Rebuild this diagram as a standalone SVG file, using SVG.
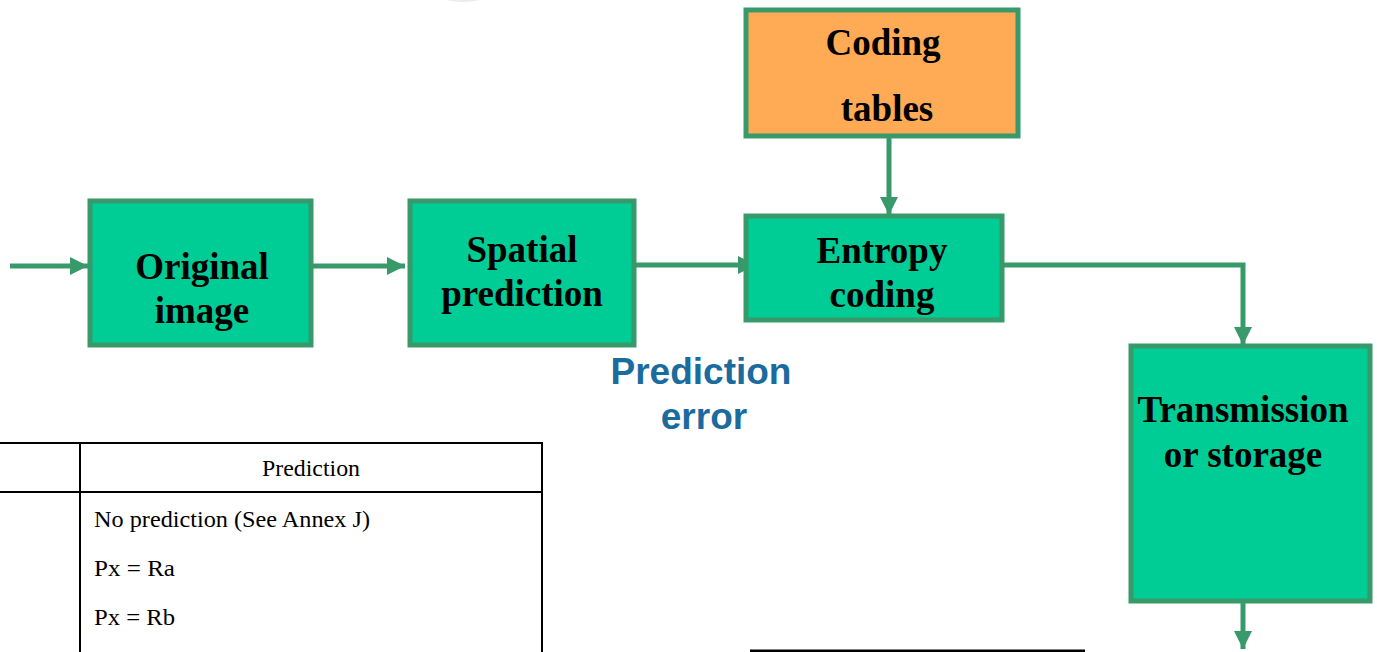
<svg xmlns="http://www.w3.org/2000/svg" width="1377" height="652" viewBox="0 0 1377 652">
<defs>
<style>
.box{fill:#00cc96;stroke:#38996a;stroke-width:5}
.orange{fill:#ffaa55;stroke:#38996a;stroke-width:5}
.lbl{font-family:"Liberation Serif",serif;font-weight:bold;font-size:37px;fill:#000;text-anchor:middle}
.blue{font-family:"Liberation Sans",Arial,sans-serif;font-weight:bold;font-size:37px;fill:#1a6b9e;text-anchor:middle}
.conn{stroke:#38996a;stroke-width:5;fill:none}
.tbl{stroke:#000;stroke-width:2;fill:none}
.tt{font-family:"Liberation Serif",serif;font-size:23.5px;fill:#000}
</style>
<marker id="ah" markerUnits="userSpaceOnUse" markerWidth="20" markerHeight="18" refX="18" refY="9" orient="auto">
<path d="M0,0 L18,9 L0,18 Z" fill="#38996a"/>
</marker>
</defs>
<rect width="1377" height="652" fill="#fff"/>
<ellipse cx="463" cy="-4" rx="22" ry="6" fill="#ececec"/>
<g id="connectors">
<line class="conn" x1="10" y1="266" x2="88" y2="266" marker-end="url(#ah)"/>
<line class="conn" x1="312" y1="266" x2="405" y2="266" marker-end="url(#ah)"/>
<line class="conn" x1="635" y1="265" x2="756" y2="265" marker-end="url(#ah)"/>
<line class="conn" x1="889" y1="137" x2="889" y2="215" marker-end="url(#ah)"/>
<polyline class="conn" points="1003,265 1243,265 1243,345" marker-end="url(#ah)"/>
<line class="conn" x1="1243" y1="602" x2="1243" y2="649" marker-end="url(#ah)"/>
</g>
<g id="original">
<rect class="box" x="90" y="201" width="221" height="144"/>
<text class="lbl" x="202" y="279">Original</text>
<text class="lbl" x="202" y="323">image</text>
</g>
<g id="spatial">
<rect class="box" x="410" y="201" width="224" height="144"/>
<text class="lbl" x="522" y="262">Spatial</text>
<text class="lbl" x="522" y="306">prediction</text>
</g>
<g id="entropy">
<rect class="box" x="746" y="216" width="256" height="104"/>
<text class="lbl" x="882" y="263">Entropy</text>
<text class="lbl" x="882" y="307">coding</text>
</g>
<g id="tables">
<rect class="orange" x="746" y="10" width="272" height="126"/>
<text class="lbl" x="883" y="55">Coding</text>
<text class="lbl" x="887" y="121">tables</text>
</g>
<g id="transmission">
<rect class="box" x="1131" y="346" width="239" height="255"/>
<text class="lbl" x="1243" y="422">Transmission</text>
<text class="lbl" x="1243" y="467">or storage</text>
</g>
<g id="prediction-error">
<text class="blue" x="701" y="384">Prediction</text>
<text class="blue" x="704" y="429">error</text>
</g>
<g id="table">
<line class="tbl" x1="0" y1="443" x2="543" y2="443"/>
<line class="tbl" x1="0" y1="492" x2="543" y2="492"/>
<line class="tbl" x1="80" y1="443" x2="80" y2="652"/>
<line class="tbl" x1="542" y1="443" x2="542" y2="652"/>
<text class="tt" x="262" y="476" textLength="98" lengthAdjust="spacingAndGlyphs">Prediction</text>
<text class="tt" x="94" y="527" textLength="276" lengthAdjust="spacingAndGlyphs">No prediction (See Annex J)</text>
<text class="tt" x="94" y="576" textLength="81" lengthAdjust="spacingAndGlyphs">Px = Ra</text>
<text class="tt" x="94" y="625" textLength="81" lengthAdjust="spacingAndGlyphs">Px = Rb</text>
</g>
<line x1="750" y1="651" x2="1085" y2="651" stroke="#000" stroke-width="3"/>
</svg>
